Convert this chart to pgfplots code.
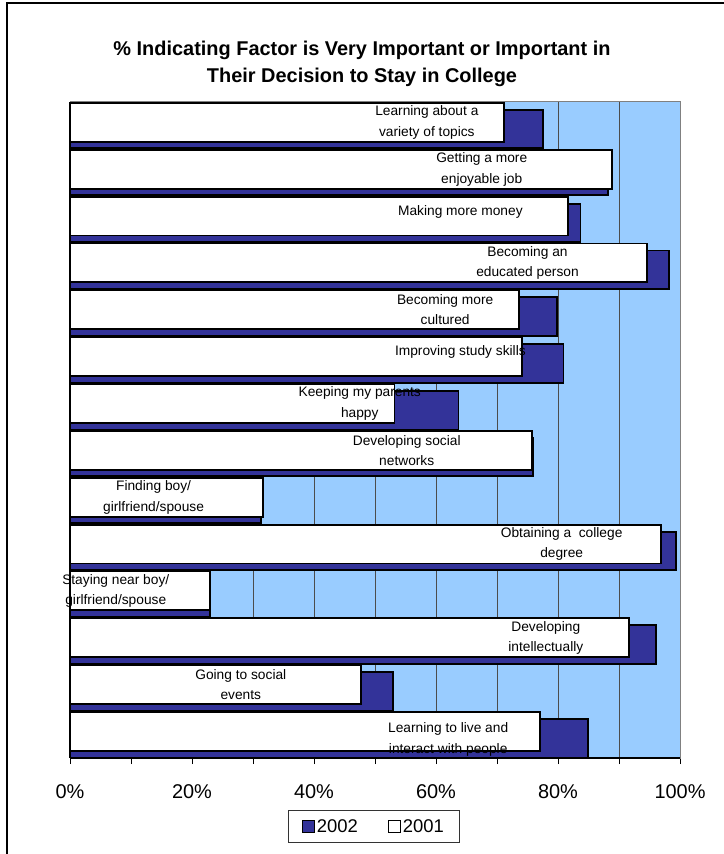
\documentclass[border=0pt]{standalone}
\usepackage{pgfplots}
\pgfplotsset{compat=1.18}
\usepackage{pgfplotstable}
\usepackage{fontspec}
\setmainfont{Liberation Sans}

\definecolor{bar02}{HTML}{333399}
\definecolor{plotbg}{HTML}{99CCFF}

% idx counts from the bottom category (0) to the top one (13)
\pgfplotstableread{
idx v2002 v2001
13 77.6 71.2
12 88.2 88.8
11 83.7 81.7
10 98.2 94.6
9  79.8 73.6
8  80.9 74.1
7  63.7 53.2
6  75.9 75.8
5  31.3 31.6
4  99.3 96.9
3  22.9 23.0
2  96.1 91.7
1  53.0 47.7
0  84.9 77.0
}\factors

\begin{document}
\begin{tikzpicture}
\useasboundingbox (0,0) rectangle (724bp,854bp);
\draw[line width=2bp] (6.5bp,0) -- (6.5bp,851bp) -- (724bp,851bp);

\node[font=\bfseries\fontsize{20}{27}\selectfont, align=center] at (362bp,790.5bp)
  {\% Indicating Factor is Very Important or Important in\\Their Decision to Stay in College};

\begin{axis}[
    name=ax,
    at={(70bp,96bp)}, anchor=south west,
    scale only axis,
    width=610bp, height=656bp,
    xmin=0, xmax=100,
    ymin=-0.5, ymax=13.5,
    axis background/.style={fill=plotbg},
    axis line style={draw=gray, line width=1bp},
    ytick=\empty,
    xtick={0,20,40,60,80,100},
    xticklabels={0\%,20\%,40\%,60\%,80\%,100\%},
    minor xtick={10,30,50,70,90},
    tick pos=left,
    tick align=outside,
    major tick length=6bp, minor tick length=6bp,
    tick style={black, line width=1bp},
    xmajorgrids, xminorgrids,
    major grid style={black!70, line width=0.8bp},
    minor grid style={black!70, line width=0.8bp},
    xticklabel style={font=\fontsize{20}{24}\selectfont, yshift=-17bp},
    clip=false,
    legend columns=2,
    legend style={at={(0.498,-0.079)}, anchor=north, draw=black!80, line width=0.8bp,
        font=\fontsize{18.5}{22}\selectfont, inner xsep=13bp, inner ysep=7bp,
        /tikz/every even column/.append style={column sep=28bp}},
    legend image code/.code={\draw[#1, line width=1.2bp] (0bp,-6bp) rectangle (12bp,6bp);},
]

\addplot[xbar, bar width=0.82, bar shift=-0.08, fill=bar02, draw=black, line width=1.8bp]
    table[x=v2002, y=idx] {\factors};
\addlegendentry{2002}
\addplot[xbar, bar width=0.83, bar shift=0.065, fill=white, draw=black, line width=1.8bp]
    table[x=v2001, y=idx] {\factors};
\addlegendentry{2001}

\begin{scope}[every node/.style={align=center, font=\fontsize{13.8}{20.5}\selectfont}]
\node at (axis cs:58.5,13.065) {Learning about a\\variety of topics};
\node at (axis cs:67.5,12.065) {Getting a more\\enjoyable job};
\node at (axis cs:64,11.16) {Making more money};
\node at (axis cs:75,10.065) {Becoming an\\educated person};
\node at (axis cs:61.5,9.065) {Becoming more\\cultured};
\node at (axis cs:64,8.16) {Improving study skills};
\node at (axis cs:47.5,7.065) {Keeping my parents\\happy};
\node at (axis cs:55.2,6.065) {Developing social\\networks};
\node at (axis cs:13.7,5.065) {Finding boy/\\girlfriend/spouse};
\node at (axis cs:80.6,4.065) {Obtaining a\ \ college\\degree};
\node at (axis cs:7.5,3.065) {Staying near boy/\\girlfriend/spouse};
\node at (axis cs:78,2.065) {Developing\\intellectually};
\node at (axis cs:28,1.065) {Going to social\\events};
\node at (axis cs:62,-0.1) {Learning to live and\\interact with people};
\end{scope}
\end{axis}
\draw[black, line width=2bp] (ax.south west) -- (ax.south east);
\end{tikzpicture}
\end{document}
